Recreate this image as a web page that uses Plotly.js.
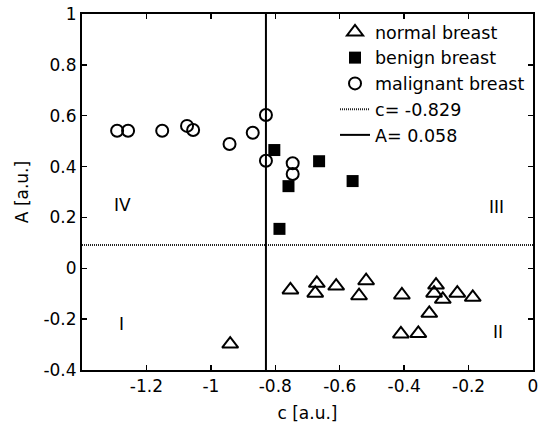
<!DOCTYPE html>
<html>
<head>
<meta charset="utf-8">
<script src="https://cdn.plot.ly/plotly-3.0.1.min.js"></script>
<style>html,body{margin:0;padding:0;background:#fff;}#chart{width:538px;height:431px;}</style>
</head>
<body>
<div id="chart"></div>
<script>
// ---- data ----
const normalC = [-0.940, -0.753, -0.671, -0.676, -0.611, -0.518, -0.540, -0.407, -0.410, -0.356, -0.322, -0.301, -0.307, -0.280, -0.235, -0.187];
const normalA = [-0.298, -0.085, -0.059, -0.098, -0.070, -0.049, -0.108, -0.105, -0.258, -0.256, -0.177, -0.066, -0.098, -0.122, -0.098, -0.114];

const benignC = [-0.803, -0.664, -0.560, -0.759, -0.787];
const benignA = [0.465, 0.421, 0.343, 0.323, 0.155];

const malignantC = [-1.291, -1.257, -1.151, -1.074, -1.055, -0.942, -0.870, -0.829, -0.829, -0.746, -0.746];
const malignantA = [0.541, 0.541, 0.541, 0.560, 0.544, 0.489, 0.533, 0.603, 0.423, 0.413, 0.371];

const seriesNames = ['normal breast', 'benign breast', 'malignant breast', 'c= -0.829', 'A= 0.058'];

// threshold lines as drawn in the picture
const horizLineC = [-1.4, 0];
const horizLineA = [0.092, 0.092];
const vertLineC = [-0.829, -0.829];
const vertLineA = [-0.4, 1];

const quadrantLabels = ['IV', 'I', 'III', 'II'];
const quadrantC = [-1.274, -1.278, -0.113, -0.108];
const quadrantA = [0.249, -0.219, 0.242, -0.252];

const xTickVals = [-1.2, -1, -0.8, -0.6, -0.4, -0.2, 0];
const xTickText = ['-1.2', '-1', '-0.8', '-0.6', '-0.4', '-0.2', '0'];
const yTickVals = [-0.4, -0.2, 0, 0.2, 0.4, 0.6, 0.8, 1];
const yTickText = ['-0.4', '-0.2', '0', '0.2', '0.4', '0.6', '0.8', '1'];

// ---- chart ----
const FONT = '"DejaVu Sans", Arial, sans-serif';
const FS = 17;
const traces = [
  {x: normalC, y: normalA, mode: 'markers', type: 'scatter', name: seriesNames[0],
   marker: {symbol: 'triangle-up-open', size: 14, color: '#000', line: {width: 2, color: '#000'}}},
  {x: benignC, y: benignA, mode: 'markers', type: 'scatter', name: seriesNames[1],
   marker: {symbol: 'square', size: 12, color: '#000', line: {width: 0}}},
  {x: malignantC, y: malignantA, mode: 'markers', type: 'scatter', name: seriesNames[2],
   marker: {symbol: 'circle-open', size: 12, color: '#000', line: {width: 2, color: '#000'}}},
  {x: horizLineC, y: horizLineA, mode: 'lines', type: 'scatter', name: seriesNames[3],
   line: {color: '#222', width: 2, dash: '1px,1px'}},
  {x: vertLineC, y: vertLineA, mode: 'lines', type: 'scatter', name: seriesNames[4],
   line: {color: '#000', width: 2}}
];

const annotations = quadrantLabels.map((t, i) => ({
  x: quadrantC[i], y: quadrantA[i], xref: 'x', yref: 'y', text: t, showarrow: false,
  font: {family: FONT, size: FS, color: '#000'}
}));

const axisCommon = {
  showgrid: false, zeroline: false, showline: true, linecolor: '#000', linewidth: 2,
  mirror: 'ticks', ticks: 'inside', ticklen: 5, tickwidth: 1.5, tickcolor: '#000',
  tickmode: 'array', ticklabeloverflow: 'allow', tickfont: {family: FONT, size: FS, color: '#000'}
};

const layout = {
  width: 538, height: 431,
  margin: {l: 82, r: 5, t: 14, b: 61},
  paper_bgcolor: '#fff', plot_bgcolor: '#fff',
  font: {family: FONT, size: FS, color: '#000'},
  showlegend: true,
  legend: {x: 0.561, y: 1.0, xanchor: 'left', yanchor: 'top', bgcolor: 'rgba(0,0,0,0)',
           borderwidth: 0, font: {family: FONT, size: 17.5, color: '#000'}},
  xaxis: Object.assign({}, axisCommon, {range: [-1.4, 0], tickvals: xTickVals, ticktext: xTickText,
           title: {text: 'c [a.u.]', font: {family: FONT, size: FS}, standoff: 12}}),
  yaxis: Object.assign({}, axisCommon, {range: [-0.4, 1], tickvals: yTickVals, ticktext: yTickText,
           title: {text: 'A [a.u.]', font: {family: FONT, size: FS}, standoff: 10}}),
  annotations: annotations
};

Plotly.newPlot('chart', traces, layout, {displayModeBar: false, staticPlot: true});
</script>
</body>
</html>
